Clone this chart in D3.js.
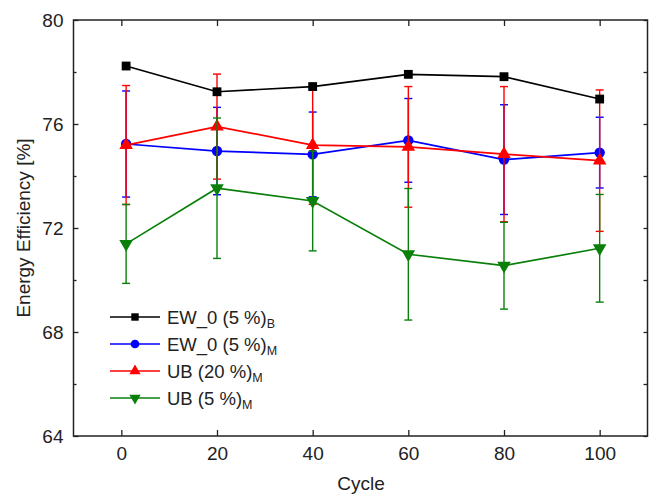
<!DOCTYPE html>
<html>
<head>
<meta charset="utf-8">
<script src="https://cdn.jsdelivr.net/npm/d3@7"></script>
<style>
  body { margin: 0; background: #fff; }
  text { font-family: "Liberation Sans", Arial, sans-serif; fill: #222; }
</style>
</head>
<body>
<div id="chart"></div>
<script>
// data
var cycles = [1, 20, 40, 60, 80, 100];
var ewB    = [78.23, 77.24, 77.44, 77.91, 77.82, 76.96];
var ewM    = [75.23, 74.96, 74.83, 75.37, 74.63, 74.90];
var ewMErr = [2.04, 1.68, 1.63, 1.61, 2.11, 1.36];
var ub20    = [75.19, 75.90, 75.19, 75.12, 74.84, 74.59];
var ub20Err = [2.29, 2.02, 2.28, 2.32, 2.60, 2.72];
var ub5    = [71.39, 73.53, 73.04, 70.99, 70.55, 71.22];
var ub5Err = [1.52, 2.70, 1.92, 2.53, 1.67, 2.07];
var xTicks = [0, 20, 40, 60, 80, 100];
var yTicks = [64, 68, 72, 76, 80];
var yMinor = [66, 70, 74, 78];

var series = [
  {name: "EW_0 (5 %)", sub: "M", color: "#0000ff", shape: "circle", vals: ewM, err: ewMErr},
  {name: "UB (20 %)", sub: "M", color: "#ff0000", shape: "up", vals: ub20, err: ub20Err},
  {name: "UB (5 %)", sub: "M", color: "#0a800a", shape: "down", vals: ub5, err: ub5Err},
  {name: "EW_0 (5 %)", sub: "B", color: "#000000", shape: "square", vals: ewB, err: null}
];
var legendOrder = [3, 0, 1, 2];

var W = 649, H = 495;
var svg = d3.select("#chart").append("svg").attr("width", W).attr("height", H);

var x = d3.scaleLinear().domain([-10, 110]).range([73.5, 647.5]);
var y = d3.scaleLinear().domain([64, 80]).range([436, 20]);

function symbolFor(shape){
  if (shape == "circle") return d3.symbol().type(d3.symbolCircle).size(85);
  if (shape == "square") return d3.symbol().type(d3.symbolSquare).size(78);
  return d3.symbol().type(d3.symbolTriangle).size(80);
}

// axes (ticks point inward)
svg.append("g").attr("transform", "translate(0,436)")
  .call(d3.axisBottom(x).tickValues(xTicks).tickSize(-6).tickPadding(11))
  .call(g => g.select(".domain").remove());
svg.append("g").attr("transform", "translate(0,20)")
  .call(d3.axisTop(x).tickValues(xTicks).tickSize(-6).tickFormat(""))
  .call(g => g.select(".domain").remove());
svg.append("g").attr("transform", "translate(73.5,0)")
  .call(d3.axisLeft(y).tickValues(yTicks).tickSize(-5).tickPadding(10))
  .call(g => g.select(".domain").remove());
svg.append("g").attr("transform", "translate(73.5,0)")
  .call(d3.axisLeft(y).tickValues(yMinor).tickSize(-3).tickFormat(""))
  .call(g => g.select(".domain").remove());
svg.append("g").attr("transform", "translate(647.5,0)")
  .call(d3.axisRight(y).tickValues(yTicks.concat(yMinor)).tickSize(-4).tickFormat(""))
  .call(g => g.select(".domain").remove());

svg.selectAll(".tick line").attr("stroke", "#222").attr("stroke-width", 1.3);
svg.selectAll(".tick text").attr("font-size", 19).attr("fill", "#222")
  .style("font-family", "'Liberation Sans', Arial, sans-serif");

svg.append("rect").attr("x", 73.5).attr("y", 20).attr("width", 574).attr("height", 416)
  .attr("fill", "none").attr("stroke", "#222").attr("stroke-width", 1.5);

svg.append("text").attr("x", 361).attr("y", 490).attr("text-anchor", "middle")
  .attr("font-size", 19).text("Cycle");
svg.append("text").attr("transform", "translate(30,228) rotate(-90)")
  .attr("text-anchor", "middle").attr("font-size", 19).text("Energy Efficiency [%]");

// series
series.forEach(function(s){
  var g = svg.append("g");
  var pts = cycles.map((c, i) => ({c: c, v: s.vals[i], e: s.err ? s.err[i] : 0}));
  if (s.err){
    var eb = g.selectAll(".eb").data(pts).enter().append("g").attr("stroke", s.color).attr("stroke-width", 1.4);
    eb.append("line").attr("x1", d => x(d.c)).attr("x2", d => x(d.c))
      .attr("y1", d => y(d.v - d.e)).attr("y2", d => y(d.v + d.e));
    eb.append("line").attr("x1", d => x(d.c) - 4).attr("x2", d => x(d.c) + 4)
      .attr("y1", d => y(d.v + d.e)).attr("y2", d => y(d.v + d.e));
    eb.append("line").attr("x1", d => x(d.c) - 4).attr("x2", d => x(d.c) + 4)
      .attr("y1", d => y(d.v - d.e)).attr("y2", d => y(d.v - d.e));
  }
  g.append("path").datum(pts)
    .attr("d", d3.line().x(d => x(d.c)).y(d => y(d.v)))
    .attr("fill", "none").attr("stroke", s.color).attr("stroke-width", 1.7);
  g.selectAll(".mk").data(pts).enter().append("path")
    .attr("d", symbolFor(s.shape))
    .attr("transform", d => "translate(" + x(d.c) + "," + y(d.v) + ")" + (s.shape == "down" ? " rotate(180)" : ""))
    .attr("fill", s.color);
});

// legend
var lg = svg.append("g");
legendOrder.forEach(function(k, i){
  var s = series[k];
  var ly = 317 + i * 27;
  lg.append("line").attr("x1", 110).attr("x2", 160).attr("y1", ly).attr("y2", ly)
    .attr("stroke", s.color).attr("stroke-width", 1.6);
  lg.append("path").attr("d", symbolFor(s.shape).size(s.shape == "circle" ? 60 : 55)())
    .attr("transform", "translate(135," + ly + ")" + (s.shape == "down" ? " rotate(180)" : ""))
    .attr("fill", s.color);
  var t = lg.append("text").attr("x", 167).attr("y", ly + 7).attr("font-size", 18.5);
  t.append("tspan").text(s.name);
  t.append("tspan").attr("font-size", 12.5).attr("dy", 4).text(s.sub);
});
</script>
</body>
</html>
